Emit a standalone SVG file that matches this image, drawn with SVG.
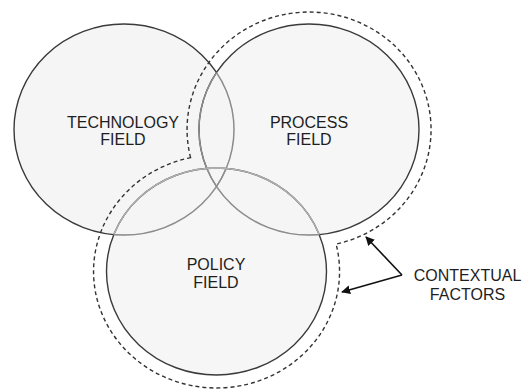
<svg xmlns="http://www.w3.org/2000/svg" width="522" height="392" viewBox="0 0 522 392">
<defs>
<style>
.field{fill:#f5f5f5;stroke:#3a3a3a;stroke-width:1.4}
.inner{fill:none;stroke:#8c8c8c;stroke-width:1.4}
.innerL{fill:none;stroke:#b0b0b0;stroke-width:1.4}
.lbl{font-family:"Liberation Sans",Arial,sans-serif;font-size:16px;fill:#1e1e1e;text-anchor:middle}
.ctx{fill:none;stroke:#333;stroke-width:1.4;stroke-dasharray:4 3}
.arr{fill:none;stroke:#111;stroke-width:1.6}
</style>
<marker id="ah" viewBox="0 0 10 10" refX="9" refY="5" markerWidth="9" markerHeight="9" markerUnits="userSpaceOnUse" orient="auto">
<path d="M0,0 L10,5 L0,10 Z" fill="#111"/>
</marker>
<clipPath id="cTech"><ellipse cx="124" cy="129.5" rx="110" ry="105.5"/></clipPath>
<clipPath id="cProc"><ellipse cx="309" cy="129.5" rx="110" ry="105.5"/></clipPath>
<clipPath id="cPol"><ellipse cx="216.5" cy="271.5" rx="110" ry="103.5"/></clipPath>
</defs>
<rect width="522" height="392" fill="#fff"/>
<g id="technology-field">
<ellipse class="field" cx="124" cy="129.5" rx="110" ry="105.5"/>
</g>
<g id="process-field">
<ellipse class="field" cx="309" cy="129.5" rx="110" ry="105.5" fill-opacity="0.85"/>
</g>
<g id="policy-field">
<ellipse class="field" cx="216.5" cy="271.5" rx="110" ry="103.5" fill-opacity="0.85"/>
</g>
<g id="overlap-arcs">
<ellipse class="inner" cx="124" cy="129.5" rx="110" ry="105.5" clip-path="url(#cProc)"/>
<ellipse class="inner" cx="124" cy="129.5" rx="110" ry="105.5" clip-path="url(#cPol)"/>
<ellipse class="inner" cx="309" cy="129.5" rx="110" ry="105.5" clip-path="url(#cTech)"/>
<ellipse class="inner" cx="309" cy="129.5" rx="110" ry="105.5" clip-path="url(#cPol)"/>
<ellipse class="innerL" cx="216.5" cy="271.5" rx="110" ry="103.5" clip-path="url(#cTech)"/>
<ellipse class="innerL" cx="216.5" cy="271.5" rx="110" ry="103.5" clip-path="url(#cProc)"/>
</g>
<g id="contextual-boundary">
<path class="ctx" d="M190.6,157.6 A122,117.5 0 1 1 336.1,244.1 A123,116.5 0 1 1 190.6,157.6 Z"/>
</g>
<g id="labels">
<text class="lbl" x="123" y="127.5">TECHNOLOGY</text>
<text class="lbl" x="123" y="145">FIELD</text>
<text class="lbl" x="309" y="127.5">PROCESS</text>
<text class="lbl" x="309" y="144.5">FIELD</text>
<text class="lbl" x="216" y="270">POLICY</text>
<text class="lbl" x="216" y="288">FIELD</text>
</g>
<g id="contextual-factors">
<text class="lbl" x="467.5" y="281">CONTEXTUAL</text>
<text class="lbl" x="467.5" y="300">FACTORS</text>
</g>
<g id="connectors">
<path class="arr" d="M402,275 L366,237" marker-end="url(#ah)"/>
<path class="arr" d="M402,275 L342,292" marker-end="url(#ah)"/>
</g>
</svg>
